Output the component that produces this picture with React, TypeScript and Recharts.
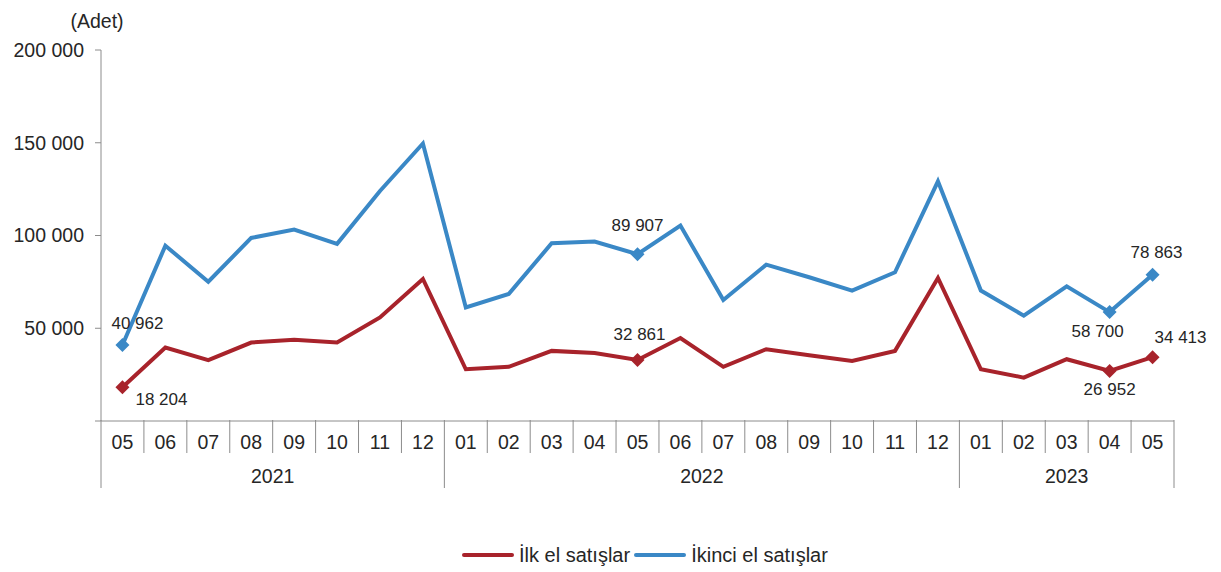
import React from 'react'
import { LineChart, Line, XAxis, YAxis, Legend, LabelList } from 'recharts'

const months = ['05', '06', '07', '08', '09', '10', '11', '12', '01', '02', '03', '04', '05', '06', '07', '08', '09', '10', '11', '12', '01', '02', '03', '04', '05']
const monthYears = [
  '2021', '2021', '2021', '2021', '2021', '2021', '2021', '2021',
  '2022', '2022', '2022', '2022', '2022', '2022', '2022', '2022', '2022', '2022', '2022', '2022',
  '2023', '2023', '2023', '2023', '2023',
]
const years = ['2021', '2022', '2023']

const ilkEl = [18204, 39600, 32800, 42300, 43800, 42300, 55800, 76600, 27900, 29200, 37800, 36600, 32861, 44700, 29200, 38700, 35500, 32400, 37800, 77100, 27900, 23400, 33300, 26952, 34413]
const ikinciEl = [40962, 94500, 75100, 98700, 103200, 95500, 124000, 149600, 61200, 68500, 95800, 96700, 89907, 105400, 65200, 84300, 77500, 70300, 80200, 129200, 70300, 56800, 72600, 58700, 78863]

const seriesNames = ['İlk el satışlar', 'İkinci el satışlar']
const labeledIdx = [0, 12, 23, 24]
const yTicks = [0, 50000, 100000, 150000, 200000]

const data = months.map((m, i) => ({
  key: `${monthYears[i]}-${m}`,
  ilk: ilkEl[i],
  ikinci: ikinciEl[i],
}))

// layout
const W = 1213
const H = 564
const Y_AXIS_W = 93
const M_RIGHT = 47
const M_TOP = 42
const X_AXIS_H = 80
const LEGEND_H = 25 // legend box gets added to the bottom offset
const M_BOTTOM = H - M_TOP - 370 - X_AXIS_H - LEGEND_H
const PLOT_BOTTOM = M_TOP + 370
const BAND = (W - Y_AXIS_W - M_RIGHT) / months.length
const MONTH_Y = PLOT_BOTTOM + 22
const MONTH_LINE_END = PLOT_BOTTOM + 33
const YEAR_Y = PLOT_BOTTOM + 56
const YEAR_LINE_END = PLOT_BOTTOM + 68

const FONT = "'Liberation Sans', Arial, sans-serif"
const TEXT = '#262626'
const AXIS = '#8c8c8c'
const RED = '#a8232b'
const BLUE = '#3a88c6'

const fmt = (v: number) => String(v).replace(/\B(?=(\d{3})+(?!\d))/g, ' ')

const labelOffsets: Record<string, Record<number, [number, number]>> = {
  ilk: { 0: [39, 12], 12: [2, -26], 23: [0, 18], 24: [28, -20] },
  ikinci: { 0: [15, -22], 12: [0, -29], 23: [-12, 19], 24: [4, -23] },
}

function MonthTick(props: any) {
  const { x, index } = props
  const left = x - BAND / 2
  const yearStart = index === 0 || monthYears[index] !== monthYears[index - 1]
  const isLast = index === months.length - 1

  // year label sits in the middle of its group
  const yr = monthYears[index]
  const first = monthYears.indexOf(yr)
  const last = monthYears.lastIndexOf(yr)
  const mid = (first + last) / 2
  const showYear = index === Math.floor(mid)
  const yearX = x + (mid - Math.floor(mid)) * BAND

  return (
    <g>
      <line x1={left} x2={left} y1={PLOT_BOTTOM} y2={yearStart ? YEAR_LINE_END : MONTH_LINE_END} stroke={AXIS} strokeWidth={1} />
      {isLast && (
        <line x1={x + BAND / 2} x2={x + BAND / 2} y1={PLOT_BOTTOM} y2={YEAR_LINE_END} stroke={AXIS} strokeWidth={1} />
      )}
      <text x={x} y={MONTH_Y} dy="0.35em" textAnchor="middle" fontSize={19.5} fontFamily={FONT} fill={TEXT}>
        {months[index]}
      </text>
      {showYear && (
        <text x={yearX} y={YEAR_Y} dy="0.35em" textAnchor="middle" fontSize={19.5} fontFamily={FONT} fill={TEXT}>
          {years[years.indexOf(yr)]}
        </text>
      )}
    </g>
  )
}

const makeDot = (color: string) => (props: any) => {
  const { cx, cy, index } = props
  if (!labeledIdx.includes(index)) return <g key={`d-${index}`} />
  const r = 7
  return (
    <path
      key={`d-${index}`}
      d={`M${cx},${cy - r} L${cx + r},${cy} L${cx},${cy + r} L${cx - r},${cy} Z`}
      fill={color}
    />
  )
}

const makeLabel = (series: string) => (props: any) => {
  const { x, y, value, index } = props
  const off = labelOffsets[series][index]
  if (!off) return null
  return (
    <text x={x + off[0]} y={y + off[1]} dy="0.35em" textAnchor="middle" fontSize={17} fontFamily={FONT} fill={TEXT}>
      {fmt(value)}
    </text>
  )
}

function LegendContent({ payload }: any) {
  const items = [...(payload || [])].sort(
    (a: any, b: any) => seriesNames.indexOf(a.value) - seriesNames.indexOf(b.value)
  )
  return (
    <div style={{ display: 'flex', alignItems: 'center', paddingLeft: 454, fontFamily: FONT, fontSize: 20, color: TEXT, lineHeight: '24px' }}>
      {items.map((entry: any) => (
        <span key={entry.value} style={{ display: 'flex', alignItems: 'center', marginRight: 4 }}>
          <span style={{ display: 'inline-block', width: 52, height: 4, background: entry.color, borderRadius: 2, marginRight: 5 }} />
          {entry.value}
        </span>
      ))}
    </div>
  )
}

export default function App() {
  return (
    <div style={{ position: 'relative', width: W, height: H }}>
      <LineChart width={W} height={H} data={data} margin={{ top: M_TOP, right: M_RIGHT, left: 0, bottom: M_BOTTOM }}>
        <XAxis
          dataKey="key"
          scale="band"
          interval={0}
          height={X_AXIS_H}
          tickLine={false}
          axisLine={{ stroke: AXIS }}
          tick={<MonthTick />}
          padding={{ left: 0, right: 0 }}
        />
        <YAxis
          width={Y_AXIS_W}
          domain={[0, 200000]}
          ticks={yTicks}
          interval={0}
          tickSize={6}
          tickMargin={11}
          axisLine={{ stroke: AXIS }}
          tickLine={{ stroke: AXIS }}
          tick={{ fontSize: 19.5, fontFamily: FONT, fill: TEXT }}
          tickFormatter={(v: number) => (v === 0 ? '' : fmt(v))}
          label={{
            content: (p: any) => (
              <text x={89} y={p.viewBox.y - 22} textAnchor="middle" fontSize={19.5} fontFamily={FONT} fill={TEXT}>
                (Adet)
              </text>
            ),
          }}
        />
        <Line
          type="linear"
          dataKey="ilk"
          name={seriesNames[0]}
          stroke={RED}
          strokeWidth={4}
          dot={makeDot(RED)}
          activeDot={false}
          isAnimationActive={false}
        >
          <LabelList dataKey="ilk" content={makeLabel('ilk')} />
        </Line>
        <Line
          type="linear"
          dataKey="ikinci"
          name={seriesNames[1]}
          stroke={BLUE}
          strokeWidth={4}
          dot={makeDot(BLUE)}
          activeDot={false}
          isAnimationActive={false}
        >
          <LabelList dataKey="ikinci" content={makeLabel('ikinci')} />
        </Line>
        <Legend
          layout="vertical"
          align="center"
          verticalAlign="bottom"
          content={<LegendContent />}
          wrapperStyle={{ position: 'absolute', left: 0, top: 535, width: W }}
        />
      </LineChart>
    </div>
  )
}
